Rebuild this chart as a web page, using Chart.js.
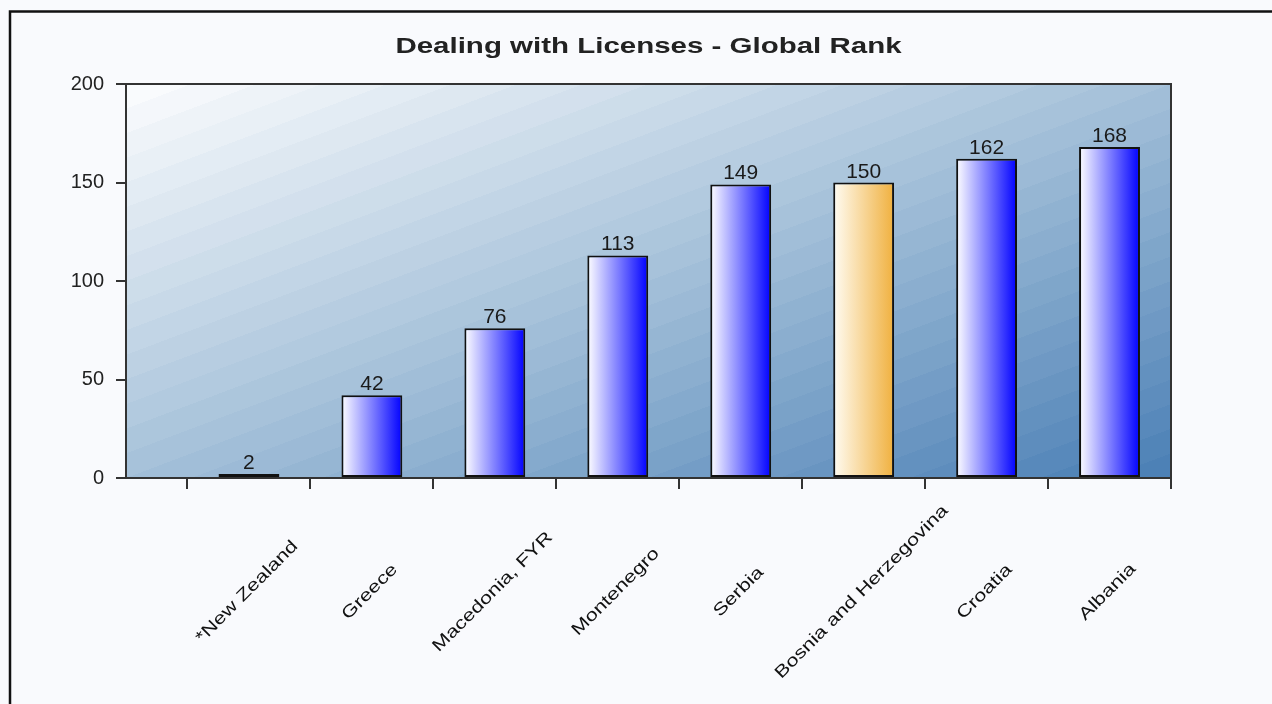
<!DOCTYPE html>
<html lang="en">
<head>
    <meta charset="UTF-8">
    <title>Dealing with Licenses - Global Rank</title>
    <script src="https://cdn.jsdelivr.net/npm/chart.js@4.4.1/dist/chart.umd.min.js"></script>
    <style>
        html, body { margin: 0; padding: 0; background: #f9fafd; }
        canvas { display: block; }
    </style>
</head>
<body>
<canvas id="rankChart" width="1272" height="704"></canvas>

<script>
    // ranking data
    const countries = ['*New Zealand', 'Greece', 'Macedonia, FYR', 'Montenegro', 'Serbia',
        'Bosnia and Herzegovina', 'Croatia', 'Albania'];
    const ranks = [2, 42, 76, 113, 149, 150, 162, 168];
    const yTicks = [0, 50, 100, 150, 200];
    const highlighted = 'Bosnia and Herzegovina';
    const chartTitle = 'Dealing with Licenses - Global Rank';

    const BAR_FRACTION = 0.495;
    const FONT = '"Liberation Sans", Arial, sans-serif';

    // horizontal gradient for each bar, orange for the highlighted country
    function barFill(c) {
        const chart = c.chart;
        const xs = chart.scales.x;
        const hot = countries[c.dataIndex] === highlighted;
        if (!xs || c.type !== 'data') return hot ? '#f8d898' : '#8080ff';
        const step = xs.getPixelForValue(1) - xs.getPixelForValue(0);
        const cx = xs.getPixelForValue(c.dataIndex);
        if (!Number.isFinite(step) || !Number.isFinite(cx)) return hot ? '#f8d898' : '#8080ff';
        const half = step * BAR_FRACTION / 2;
        const g = chart.ctx.createLinearGradient(cx - half, 0, cx + half, 0);
        if (hot) {
            g.addColorStop(0, '#fffcf3');
            g.addColorStop(1, '#f0b03e');
        } else {
            g.addColorStop(0, '#ffffff');
            g.addColorStop(1, '#0000ff');
        }
        return g;
    }

    function mix(a, b, t) {
        const pa = [1, 3, 5].map(i => parseInt(a.substr(i, 2), 16));
        const pb = [1, 3, 5].map(i => parseInt(b.substr(i, 2), 16));
        return 'rgb(' + pa.map((v, i) => Math.round(v + (pb[i] - v) * t)).join(',') + ')';
    }

    function plotColor(t) {
        return t < 0.5 ? mix('#fcfdfe', '#a4c0d9', t / 0.5) : mix('#a4c0d9', '#4a7fb5', (t - 0.5) / 0.5);
    }

    const backdrop = {
        id: 'backdrop',
        beforeDraw(chart) {
            const {ctx, chartArea: a, width, height} = chart;
            ctx.save();
            ctx.fillStyle = '#f9fafd';
            ctx.fillRect(0, 0, width, height);

            // outer frame
            ctx.strokeStyle = '#111';
            ctx.lineWidth = 2.5;
            ctx.beginPath();
            ctx.moveTo(10, height);
            ctx.lineTo(10, 11.5);
            ctx.lineTo(width, 11.5);
            ctx.stroke();

            // diagonal banded gradient, isolines along the anti-diagonal
            const w = a.right - a.left, h = a.bottom - a.top;
            const d = Math.sqrt(w * w + h * h);
            const len = 2 * w * h / d;
            const g = ctx.createLinearGradient(a.left, a.top, a.left + h / d * len, a.top + w / d * len);
            const bands = 32;
            for (let k = 0; k < bands; k++) {
                const col = plotColor((k + 0.5) / bands);
                g.addColorStop(k / bands, col);
                g.addColorStop((k + 1) / bands, col);
            }
            ctx.fillStyle = g;
            ctx.fillRect(a.left, a.top, w, h);
            ctx.restore();
        },
        afterDraw(chart) {
            const {ctx, chartArea: a} = chart;
            const xs = chart.scales.x;
            ctx.save();

            // plot frame
            ctx.strokeStyle = '#333';
            ctx.lineWidth = 2;
            ctx.strokeRect(a.left, a.top, a.right - a.left, a.bottom - a.top);

            // title
            ctx.fillStyle = '#222';
            ctx.font = 'bold 22px ' + FONT;
            ctx.textAlign = 'center';
            ctx.textBaseline = 'alphabetic';
            ctx.save();
            ctx.translate((a.left + a.right) / 2, 53);
            ctx.scale(1.34, 1);
            ctx.fillText(chartTitle, 0, 0);
            ctx.restore();

            // rotated category labels
            ctx.fillStyle = '#111';
            ctx.font = '17px ' + FONT;
            ctx.textBaseline = 'middle';
            countries.forEach((name, i) => {
                ctx.save();
                ctx.translate(xs.getPixelForValue(i) - 2, 592);
                ctx.rotate(-Math.PI / 4);
                ctx.scale(1.28, 1);
                ctx.fillText(name, 0, 0);
                ctx.restore();
            });
            ctx.restore();
        },
        afterDatasetsDraw(chart) {
            const {ctx} = chart;
            const meta = chart.getDatasetMeta(0);
            ctx.save();
            ctx.fillStyle = '#1a1a1a';
            ctx.font = '21px ' + FONT;
            ctx.textAlign = 'center';
            ctx.textBaseline = 'alphabetic';
            meta.data.forEach((bar, i) => {
                ctx.fillText(String(ranks[i]), bar.x, bar.y - 5);
            });
            ctx.restore();
        }
    };

    new Chart(document.getElementById('rankChart'), {
        type: 'bar',
        data: {
            datasets: [{
                data: ranks.map((v, i) => ({x: i, y: v})),
                backgroundColor: barFill,
                borderColor: '#111',
                borderWidth: 2,
                borderSkipped: false,
                categoryPercentage: 1,
                barPercentage: BAR_FRACTION
            }]
        },
        options: {
            responsive: false,
            animation: false,
            layout: {padding: {top: 84, right: 101, left: 0, bottom: 0}},
            plugins: {legend: {display: false}, tooltip: {enabled: false}, title: {display: false}},
            scales: {
                x: {
                    type: 'linear',
                    min: -1,
                    max: 7.5,
                    offset: false,
                    afterBuildTicks: s => { s.ticks = countries.map((_, i) => ({value: i + 0.5})).concat([{value: -0.5}]); },
                    afterFit: s => { s.height = 704 - 478; },
                    ticks: {display: false},
                    grid: {offset: false, drawOnChartArea: false, tickLength: 11, color: '#333', lineWidth: 2},
                    border: {color: '#333', width: 2}
                },
                y: {
                    min: 0,
                    max: 200,
                    afterBuildTicks: s => { s.ticks = yTicks.map(v => ({value: v})); },
                    afterFit: s => { s.width = 126; },
                    ticks: {color: '#222', padding: 12, font: {family: FONT, size: 20}},
                    grid: {drawOnChartArea: false, tickLength: 10, color: '#333', lineWidth: 2},
                    border: {color: '#333', width: 2}
                }
            }
        },
        plugins: [backdrop]
    });
</script>
</body>
</html>
